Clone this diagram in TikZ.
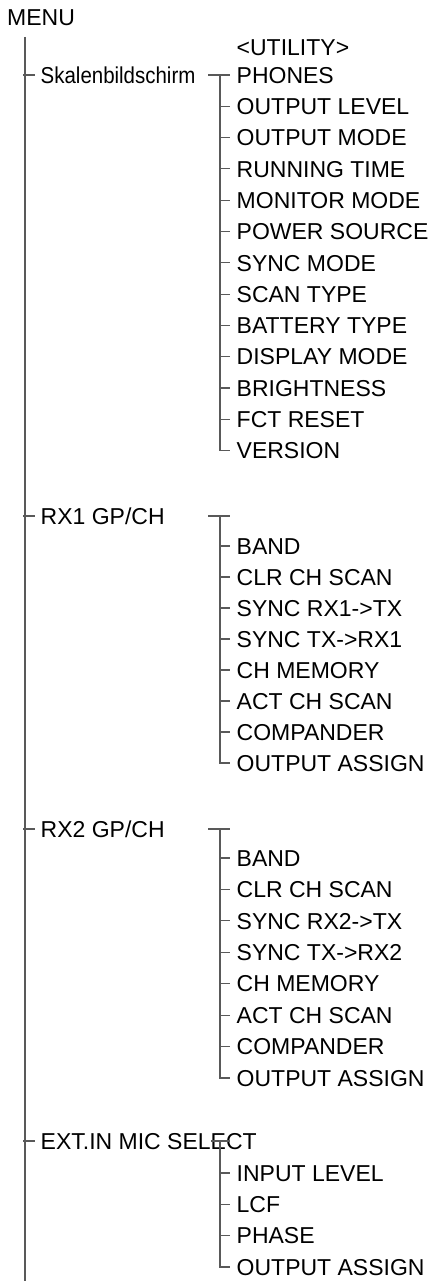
\documentclass[tikz,border=0pt]{standalone}
\usepackage{fontspec}
\setmainfont{Liberation Sans}
\usetikzlibrary{calc}
\tikzset{
  lbl/.style={anchor=west, inner sep=0pt, text height=16.5pt, text depth=0pt, font=\fontsize{23}{27}\selectfont},
  conn/.style={draw=black!65, line width=1.2pt},
}
\begin{document}
\begin{tikzpicture}[x=1pt,y=-1pt]
\useasboundingbox[fill=white] (0,0) rectangle (437,1281);
% trunk
\node[lbl] (menu) at (7,17) {MENU};
\coordinate (mtop) at (25,37);
\coordinate (mbot) at (25,1281);
\draw[conn] (mtop) -- (mbot);
% main items
\node[lbl] (skal) at (40.5,75) {\scalebox{0.89}[1]{Skalenbildschirm}};
\node[lbl] (rxa) at (40.5,516) {RX1 GP/CH};
\node[lbl] (rxb) at (40.5,829) {RX2 GP/CH};
\node[lbl] (ext) at (40.5,1141) {EXT.IN MIC SELECT};
\foreach \n in {skal,rxa,rxb,ext}
  \draw[conn] ($(\n.west -| mtop)+(-2,0)$) -- ([xshift=-5.5pt]\n.west);
% utility group
\node[lbl] (util) at (236.5,47) {<UTILITY>};
\foreach \t [count=\i] in {PHONES,OUTPUT LEVEL,OUTPUT MODE,RUNNING TIME,MONITOR MODE,POWER SOURCE,SYNC MODE,SCAN TYPE,BATTERY TYPE,DISPLAY MODE,BRIGHTNESS,FCT RESET,VERSION}
  \node[lbl] (s\i) at (236.5,{75+31.3*(\i-1)}) {\t};
\coordinate (gS) at (208,75);
\coordinate (jS) at (220,75);
\draw[conn] (gS) -- ([xshift=-6.5pt]s1.west);
\draw[conn] (jS) |- ([xshift=-6.5pt]s13.west);
\foreach \i in {2,...,12}
  \draw[conn] (s\i.west -| jS) -- ([xshift=-6.5pt]s\i.west);
% RX1 group
\foreach \t [count=\i] in {BAND,CLR CH SCAN,SYNC RX1->TX,SYNC TX->RX1,CH MEMORY,ACT CH SCAN,COMPANDER,OUTPUT ASSIGN}
  \node[lbl] (a\i) at (236.5,{546+31*(\i-1)}) {\t};
\coordinate (gA) at (208,516);
\coordinate (jA) at (220,516);
\coordinate (eA) at (230,516);
\draw[conn] (gA) -- (eA);
\draw[conn] (jA) |- ([xshift=-6.5pt]a8.west);
\foreach \i in {1,...,7}
  \draw[conn] (a\i.west -| jA) -- ([xshift=-6.5pt]a\i.west);
% RX2 group
\foreach \t [count=\i] in {BAND,CLR CH SCAN,SYNC RX2->TX,SYNC TX->RX2,CH MEMORY,ACT CH SCAN,COMPANDER,OUTPUT ASSIGN}
  \node[lbl] (b\i) at (236.5,{858+31.43*(\i-1)}) {\t};
\coordinate (gB) at (208,829);
\coordinate (jB) at (220,829);
\coordinate (eB) at (230,829);
\draw[conn] (gB) -- (eB);
\draw[conn] (jB) |- ([xshift=-6.5pt]b8.west);
\foreach \i in {1,...,7}
  \draw[conn] (b\i.west -| jB) -- ([xshift=-6.5pt]b\i.west);
% EXT group
\foreach \t [count=\i] in {INPUT LEVEL,LCF,PHASE,OUTPUT ASSIGN}
  \node[lbl] (c\i) at (236.5,{1173+31.3*(\i-1)}) {\t};
\coordinate (gC) at (211,1141);
\coordinate (jC) at (220,1141);
\coordinate (eC) at (230,1141);
\draw[conn] (gC) -- (eC);
\draw[conn] (jC) |- ([xshift=-6.5pt]c4.west);
\foreach \i in {1,...,3}
  \draw[conn] (c\i.west -| jC) -- ([xshift=-6.5pt]c\i.west);
\end{tikzpicture}
\end{document}
